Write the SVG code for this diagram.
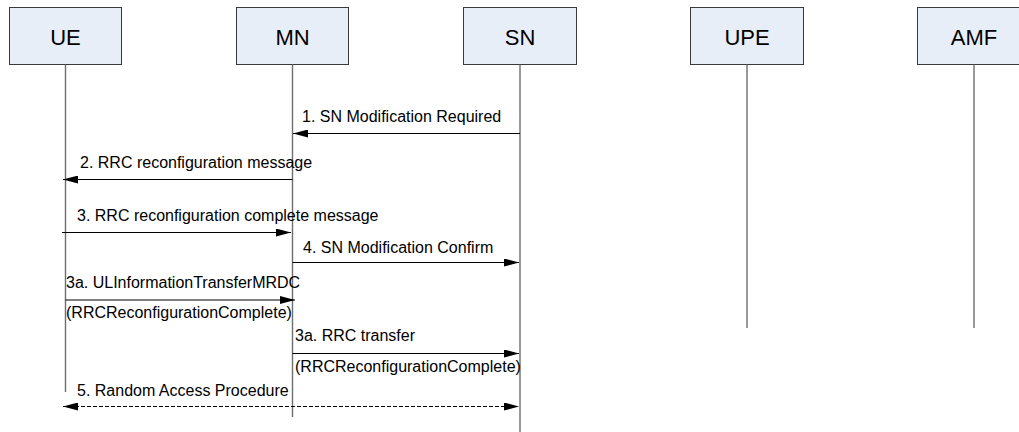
<svg xmlns="http://www.w3.org/2000/svg" width="1019" height="432" viewBox="0 0 1019 432">
<style>
.box{fill:#E8EEF8;stroke:#3a3a3a;stroke-width:1}
.life{stroke:#6e6e6e;stroke-width:1.4;fill:none}
.nl{font-family:"Liberation Sans",Arial,sans-serif;font-size:22px;fill:#000;text-anchor:middle}
.ml{font-family:"Liberation Sans",Arial,sans-serif;font-size:16px;fill:#000}
.msg{stroke:#000;stroke-width:1;fill:none}
.dash{stroke-dasharray:4,2}
</style>
<defs>
<marker id="ah" markerWidth="15" markerHeight="8" refX="15" refY="4" orient="auto-start-reverse" markerUnits="userSpaceOnUse">
<path d="M0,0 L15,4 L0,8 Z" fill="#000"/>
</marker>
</defs>
<rect width="1019" height="432" fill="#fff"/>
<g id="UE"><rect class="box" x="9.5" y="7.5" width="112" height="57"/><text class="nl" x="65.5" y="45">UE</text><line class="life" x1="65.5" y1="64.5" x2="65.5" y2="392"/></g>
<g id="MN"><rect class="box" x="236.5" y="7.5" width="112" height="57"/><text class="nl" x="292.5" y="45">MN</text><line class="life" x1="292.5" y1="64.5" x2="292.5" y2="417"/></g>
<g id="SN"><rect class="box" x="463.5" y="7.5" width="113" height="57"/><text class="nl" x="520" y="45">SN</text><line class="life" x1="520" y1="64.5" x2="520" y2="432"/></g>
<g id="UPE"><rect class="box" x="690.5" y="7.5" width="113" height="57"/><text class="nl" x="747" y="45">UPE</text><line class="life" x1="747" y1="64.5" x2="747" y2="328"/></g>
<g id="AMF"><rect class="box" x="917.5" y="7.5" width="113" height="57"/><text class="nl" x="974" y="45">AMF</text><line class="life" x1="974" y1="64.5" x2="974" y2="328"/></g>
<g id="connectors">
<line class="msg" x1="520" y1="133.5" x2="293" y2="133.5" marker-end="url(#ah)"/>
<text class="ml" x="302" y="122">1. SN Modification Required</text>
<line class="msg" x1="292.5" y1="179.5" x2="63" y2="179.5" marker-end="url(#ah)"/>
<text class="ml" x="80" y="168">2. RRC reconfiguration message</text>
<line class="msg" x1="62" y1="232.5" x2="291" y2="232.5" marker-end="url(#ah)"/>
<text class="ml" x="77" y="221">3. RRC reconfiguration complete message</text>
<line class="msg" x1="292.5" y1="262.5" x2="519" y2="262.5" marker-end="url(#ah)"/>
<text class="ml" x="303" y="253">4. SN Modification Confirm</text>
<line class="msg" x1="65.5" y1="300" x2="295" y2="300" marker-end="url(#ah)"/>
<text class="ml" x="66" y="288">3a. ULInformationTransferMRDC</text>
<text class="ml" x="66" y="318">(RRCReconfigurationComplete)</text>
<line class="msg" x1="292.5" y1="353.5" x2="519" y2="353.5" marker-end="url(#ah)"/>
<text class="ml" x="295" y="341">3a. RRC transfer</text>
<text class="ml" x="295" y="372">(RRCReconfigurationComplete)</text>
<line class="msg dash" x1="63" y1="406.5" x2="519" y2="406.5" marker-start="url(#ah)" marker-end="url(#ah)"/>
<text class="ml" x="77" y="396">5. Random Access Procedure</text>
</g>
</svg>
